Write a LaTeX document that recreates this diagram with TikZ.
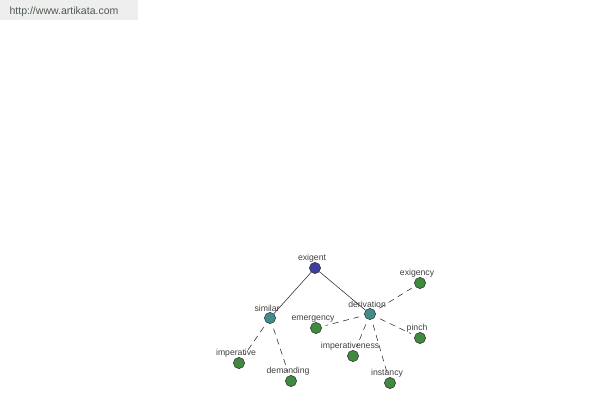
\documentclass[tikz,border=0pt]{standalone}
\usepackage{fontspec}
\setmainfont{Liberation Sans}
\usetikzlibrary{positioning}
\definecolor{rootblue}{RGB}{62,62,158}
\definecolor{midteal}{RGB}{66,140,140}
\definecolor{leafgreen}{RGB}{62,138,62}
\definecolor{sitegrey}{RGB}{238,238,238}
\definecolor{sitetext}{RGB}{78,90,78}
\tikzset{
  word/.style={circle,draw=black!80,thin,minimum size=8.4pt,inner sep=0pt,
    label={[font=\fontsize{6.5}{7}\selectfont,text=black!75,inner sep=0.5pt,label distance=-0.6pt,xshift=-2.2pt]above:#1}},
  rootw/.style={word=#1,fill=rootblue},
  midw/.style={word=#1,fill=midteal},
  leafw/.style={word=#1,fill=leafgreen},
  rel/.style={black!85,thin},
  syn/.style={black!85,thin,dashed,dash pattern=on 4.5pt off 3.5pt,shorten <=4pt,shorten >=3pt}
}
\begin{document}
\begin{tikzpicture}[x=0.75pt,y=-0.75pt]
\useasboundingbox (0,0) rectangle (600,400);
\fill[sitegrey] (0,0) rectangle (138,20);
\path node[font=\fontsize{7.9}{9}\selectfont,text=sitetext] (site) at (64,12) {http://www.artikata.com};
% tree
\path node[rootw=exigent] (exig) at (315,268) {};
\path node[midw=similar] (sim) at (270,318) {};
\path node[midw=derivation] (deriv) at (370,314) {};
\path node[leafw=exigency] (exgy) at (420,283) {};
\path node[leafw=emergency] (emer) at (316,328) {};
\path node[leafw=pinch] (pinch) at (420,338) {};
\path node[leafw=imperativeness] (impness) at (353,356) {};
\path node[leafw=instancy] (inst) at (390,383) {};
\path node[leafw=imperative] (imper) at (239,363) {};
\path node[leafw=demanding] (dem) at (291,381) {};
\path[rel] (exig) edge (sim) (exig) edge (deriv);
\path[syn] (sim) edge (imper) (sim) edge (dem);
\path[syn] (deriv) edge (exgy) (deriv) edge (emer) (deriv) edge (pinch)
  (deriv) edge (impness) (deriv) edge (inst);
\end{tikzpicture}
\end{document}
